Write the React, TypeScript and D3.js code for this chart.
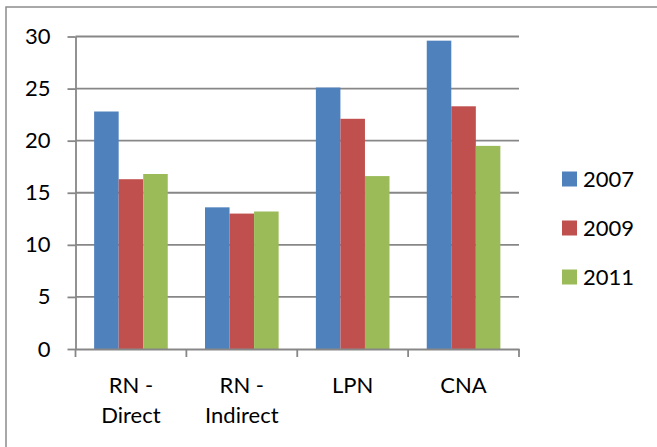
import { useEffect, useRef } from 'react';
import * as d3 from 'd3';

const categories = [['RN -', 'Direct'], ['RN -', 'Indirect'], ['LPN'], ['CNA']];
const years = ['2007', '2009', '2011'];
const values2007 = [22.8, 13.6, 25.1, 29.6];
const values2009 = [16.3, 13.0, 22.1, 23.3];
const values2011 = [16.8, 13.2, 16.6, 19.5];
const yTicks = [0, 5, 10, 15, 20, 25, 30];
const colors = ['#4F81BD', '#C0504D', '#9BBB59'];

export default function App() {
  const ref = useRef<SVGSVGElement | null>(null);

  useEffect(() => {
    if (!ref.current) return;
    const W = 657;
    const H = 447;
    const svg = d3.select(ref.current);
    svg.selectAll('*').remove();
    svg.attr('width', W).attr('height', H);

    const font = 'Lato, Calibri, sans-serif';
    const fontSize = '22px';
    const series = [values2007, values2009, values2011];

    // marco exterior
    svg.append('rect')
      .attr('x', 6).attr('y', 7).attr('width', W + 10).attr('height', H + 10)
      .attr('fill', 'white').attr('stroke', '#8c8c8c').attr('stroke-width', 1.5);

    const left = 75.5, right = 519, top = 36.5, bottom = 349;
    const labels = categories.map((c) => c.join(' '));
    const x = d3.scaleBand<string>().domain(labels).range([left, right]).paddingInner(0).paddingOuter(0);
    const y = d3.scaleLinear().domain([0, 30]).range([bottom, top]);
    const groupWidth = x.bandwidth() * 0.664;
    const x1 = d3.scaleBand<string>().domain(years).range([0, groupWidth]);

    // líneas de cuadrícula
    svg.append('g')
      .selectAll('line')
      .data(yTicks.filter((t) => t > 0))
      .enter()
      .append('line')
      .attr('x1', left).attr('x2', right)
      .attr('y1', (d) => y(d)).attr('y2', (d) => y(d))
      .attr('stroke', '#878787').attr('stroke-width', 1.8);

    // barras
    series.forEach((vals, si) => {
      svg.append('g')
        .selectAll('rect')
        .data(vals)
        .enter()
        .append('rect')
        .attr('x', (_, i) => x(labels[i])! + (x.bandwidth() - groupWidth) / 2 + x1(years[si])!)
        .attr('y', (d) => y(d))
        .attr('width', x1.bandwidth())
        .attr('height', (d) => bottom - y(d))
        .attr('fill', colors[si]);
    });

    // eje Y
    const yAxis = svg.append('g')
      .attr('transform', `translate(${left},0)`)
      .call(d3.axisLeft(y).tickValues(yTicks).tickSize(8).tickPadding(17).tickSizeOuter(0));
    yAxis.select('.domain').attr('stroke', '#878787').attr('stroke-width', 1.8);
    yAxis.selectAll('.tick line').attr('stroke', '#878787').attr('stroke-width', 1.8);
    yAxis.selectAll('.tick text')
      .style('font-family', font).style('font-size', fontSize).attr('fill', '#000');

    // eje X
    const xAxis = svg.append('g')
      .attr('transform', `translate(0,${bottom})`)
      .call(d3.axisBottom(x).tickSize(0).tickFormat(() => ''));
    xAxis.select('.domain').attr('stroke', '#878787').attr('stroke-width', 1.8);
    xAxis.selectAll('.tick').remove();
    const edges = [...labels.map((l) => x(l)!), right];
    xAxis.selectAll('line.edge')
      .data(edges)
      .enter()
      .append('line')
      .attr('class', 'edge')
      .attr('x1', (d) => d).attr('x2', (d) => d)
      .attr('y1', 0).attr('y2', 8)
      .attr('stroke', '#878787').attr('stroke-width', 1.8);

    // etiquetas de categoría
    categories.forEach((lines, i) => {
      const cx = x(labels[i])! + x.bandwidth() / 2;
      const t = svg.append('text')
        .attr('text-anchor', 'middle')
        .style('font-family', font).style('font-size', fontSize).attr('fill', '#000');
      lines.forEach((ln, li) => {
        t.append('tspan').attr('x', cx).attr('y', 392.5 + li * 30).text(ln);
      });
    });

    // leyenda
    const legend = svg.append('g');
    years.forEach((yr, i) => {
      const cy = 179 + i * 49;
      legend.append('rect')
        .attr('x', 562).attr('y', cy - 7.5).attr('width', 15).attr('height', 15)
        .attr('fill', colors[i]);
      legend.append('text')
        .attr('x', 583).attr('y', cy + 8)
        .style('font-family', font).style('font-size', fontSize).attr('fill', '#000')
        .text(yr);
    });
  }, []);

  return <svg ref={ref} style={{ position: 'absolute', left: 0, top: 0 }}></svg>;
}
